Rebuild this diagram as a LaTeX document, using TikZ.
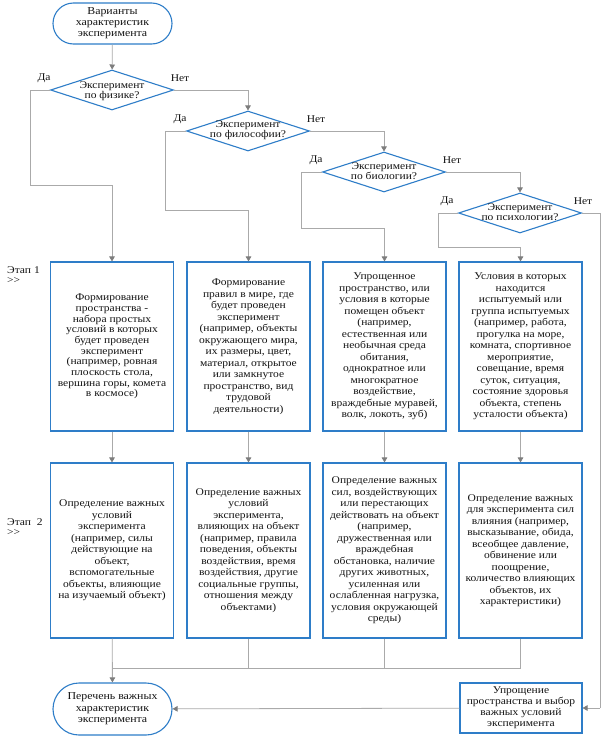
\documentclass[tikz,border=0pt]{standalone}
\usepackage{fontspec}
\setmainfont[FakeStretch=1.12]{Liberation Serif}
\usetikzlibrary{shapes.geometric,shapes.misc,arrows.meta}
\definecolor{bblue}{RGB}{46,125,200}
\definecolor{lgray}{RGB}{170,170,170}
\definecolor{agray}{RGB}{125,125,125}
\definecolor{txt}{RGB}{20,20,20}
\newcommand{\gtgt}{\hbox{>}\hbox{>}}
\begin{document}
\begin{tikzpicture}[x=1pt,y=-1pt,
  font=\fontsize{10.3}{11.5}\selectfont, text=txt,
  box/.style={draw=bblue, line width=1.1pt, fill=white, align=center, inner sep=1pt, minimum width=123pt},
  row1/.style={box, minimum height=169pt},
  row2/.style={box, minimum height=175pt},
  term/.style={rounded rectangle, draw=bblue, line width=1.1pt, fill=white, align=center, minimum width=121pt, inner sep=1pt},
  dia/.style={diamond, draw=bblue, line width=1.1pt, minimum width=123pt, minimum height=40pt, inner sep=0pt},
  dtext/.style={align=center, inner sep=0pt, font=\fontsize{10.3}{9.6}\selectfont},
  conn/.style={draw=lgray, line width=0.8pt},
  arr/.style={conn, -{Triangle[width=5.5pt,length=5pt,color=agray]}},
  lab/.style={inner sep=0pt, anchor=center},
  stage/.style={inner sep=0pt, anchor=north west, align=left, font=\fontsize{10.3}{10.5}\selectfont}
]
\fill[white] (0,0) rectangle (605,739);
\useasboundingbox (0,0) rectangle (605,739);

% start
\node[term, minimum height=41pt, font=\fontsize{10.6}{11}\selectfont] (start) at (112.5,23.5) {Варианты\\характеристик\\эксперимента};

% diamonds
\node[dia] (d1) at (112,90) {};
\node[dtext] (d1t) at (112,91) {Эксперимент\\по физике?};
\node[dia] (d2) at (248,131) {};
\node[dtext] (d2t) at (248,130) {Эксперимент\\по философии?};
\node[dia] (d3) at (384,172) {};
\node[dtext] (d3t) at (384,171) {Эксперимент\\по биологии?};
\node[dia] (d4) at (520,213) {};
\node[dtext] (d4t) at (520,212) {Эксперимент\\по психологии?};

% yes/no labels
\node[lab] (y1) at (44,78) {Да};
\node[lab] (n1) at (180,78) {Нет};
\node[lab] (y2) at (180,119) {Да};
\node[lab] (n2) at (316,119) {Нет};
\node[lab] (y3) at (316,160) {Да};
\node[lab] (n3) at (452,160) {Нет};
\node[lab] (y4) at (447,201) {Да};
\node[lab] (n4) at (583,201) {Нет};

% stage labels
\node[stage] (s1) at (7,266) {Этап 1\\\gtgt};
\node[stage] (s2) at (7,518) {Этап \ 2\\\gtgt};

% row 1
\node[row1, font=\fontsize{10.3}{10.7}\selectfont] (b11) at (112,346.5) {Формирование\\пространства -\\набора простых\\условий в которых\\будет проведен\\эксперимент\\(например, ровная\\плоскость стола,\\вершина горы, комета\\в космосе)};
\node[row1] (b12) at (248.5,346.5) {Формирование\\правил в мире, где\\будет проведен\\эксперимент\\(например, объекты\\окружающего мира,\\их размеры, цвет,\\материал, открытое\\или замкнутое\\пространство, вид\\трудовой\\деятельности)};
\node[row1] (b13) at (384.5,346.5) {Упрощенное\\пространство, или\\условия в которые\\помещен объект\\(например,\\естественная или\\необычная среда\\обитания,\\однократное или\\многократное\\воздействие,\\враждебные муравей,\\волк, локоть, зуб)};
\node[row1] (b14) at (520.5,346.5) {Условия в которых\\находится\\испытуемый или\\группа испытуемых\\(например, работа,\\прогулка на море,\\комната, спортивное\\мероприятие,\\совещание, время\\суток, ситуация,\\состояние здоровья\\объекта, степень\\усталости объекта)};

% row 2
\node[row2] (b21) at (112,550.5) {Определение важных\\условий\\эксперимента\\(например, силы\\действующие на\\объект,\\вспомогательные\\объекты, влияющие\\на изучаемый объект)};
\node[row2] (b22) at (248.5,550.5) {Определение важных\\условий\\эксперимента,\\влияющих на объект\\(например, правила\\поведения, объекты\\воздействия, время\\воздействия, другие\\социальные группы,\\отношения между\\объектами)};
\node[row2] (b23) at (384.5,550.5) {Определение важных\\сил, воздействующих\\или перестающих\\действовать на объект\\(например,\\дружественная или\\враждебная\\обстановка, наличие\\других животных,\\усиленная или\\ослабленная нагрузка,\\условия окружающей\\среды)};
\node[row2] (b24) at (520.5,550.5) {Определение важных\\для эксперимента сил\\влияния (например,\\высказывание, обида,\\всеобщее давление,\\обвинение или\\поощрение,\\количество влияющих\\объектов, их\\характеристики)};

% bottom
\node[box, minimum width=122pt, minimum height=50pt, font=\fontsize{10.3}{11}\selectfont] (b5) at (521,708) {Упрощение\\пространства и выбор\\важных условий\\эксперимента};
\node[term, minimum height=52pt, font=\fontsize{10.6}{11.5}\selectfont] (fin) at (112.5,709) {Перечень важных\\характеристик\\эксперимента};

% helper coordinates
\coordinate (c1a) at (30,90);   \coordinate (c1b) at (30,185);  \coordinate (c1c) at (112,185);
\coordinate (c2a) at (165,131); \coordinate (c2b) at (165,210); \coordinate (c2c) at (248.5,210);
\coordinate (c3a) at (301,172); \coordinate (c3b) at (301,228); \coordinate (c3c) at (384.5,228);
\coordinate (c4a) at (438,213); \coordinate (c4b) at (438,247); \coordinate (c4c) at (520.5,247);
\coordinate (n1a) at (248,90);
\coordinate (n2a) at (384,131);
\coordinate (n3a) at (520,172);
\coordinate (n4a) at (600,213); \coordinate (n4b) at (600,708);
\coordinate (m1) at (112,668); \coordinate (m2) at (248.5,668); \coordinate (m3) at (384.5,668); \coordinate (m4) at (520.5,668);

% connectors
\draw[arr] (start) -- (d1);
\draw[conn] (d1.west) -- (c1a) -- (c1b) -- (c1c);
\draw[arr] (c1c) -- (b11);
\draw[conn] (d1.east) -- (n1a);
\draw[arr] (n1a) -- (d2);
\draw[conn] (d2.west) -- (c2a) -- (c2b) -- (c2c);
\draw[arr] (c2c) -- (b12);
\draw[conn] (d2.east) -- (n2a);
\draw[arr] (n2a) -- (d3);
\draw[conn] (d3.west) -- (c3a) -- (c3b) -- (c3c);
\draw[arr] (c3c) -- (b13);
\draw[conn] (d3.east) -- (n3a);
\draw[arr] (n3a) -- (d4);
\draw[conn] (d4.west) -- (c4a) -- (c4b) -- (c4c);
\draw[arr] (c4c) -- (b14);
\draw[conn] (d4.east) -- (n4a) -- (n4b);
\draw[arr] (n4b) -- (b5);
\draw[arr] (b11) -- (b21);
\draw[arr] (b12) -- (b22);
\draw[arr] (b13) -- (b23);
\draw[arr] (b14) -- (b24);
\draw[conn] (b22) -- (m2);
\draw[conn] (b23) -- (m3);
\draw[conn] (b24) -- (m4) -- (m1);
\draw[arr] (b21) -- (fin);
\draw[arr] (b5) -- (fin);
\end{tikzpicture}
\end{document}
